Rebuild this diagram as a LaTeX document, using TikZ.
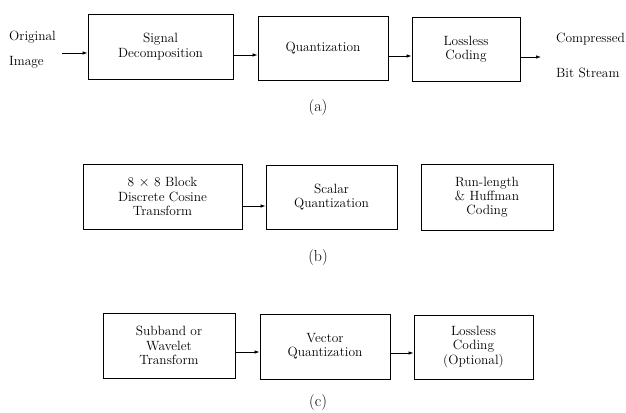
\documentclass[tikz,border=0pt]{standalone}
\usetikzlibrary{arrows.meta}
\begin{document}
\begin{tikzpicture}[x=1pt,y=-1pt,
  blk/.style={draw,line width=0.9pt,align=center,inner sep=0pt,
    font=\fontsize{13.4}{14.2}\selectfont},
  lbl/.style={font=\fontsize{13.4}{14.2}\selectfont,inner sep=0pt},
  figlabel/.style={font=\fontsize{16}{18}\selectfont,inner sep=0pt},
  arr/.style={line width=0.7pt,-{Latex[length=5pt,width=3.5pt]}}]
\useasboundingbox (0,0) rectangle (626,412);
% (a)
\node[lbl,anchor=west] (orig) at (9,37) {Original};
\node[lbl,anchor=west] (img) at (9,62) {Image};
\coordinate (in) at (62,53);
\node[blk,minimum width=145pt,minimum height=65pt] (a1) at (160.5,46.5) {Signal\\Decomposition};
\node[blk,minimum width=130pt,minimum height=64pt] (a2) at (323,48) {Quantization};
\node[blk,minimum width=108pt,minimum height=64pt] (a3) at (466,49) {Lossless\\Coding};
\coordinate (out) at (541,57);
\node[lbl,anchor=west] (comp) at (556,39) {Compressed};
\node[lbl,anchor=west] (bits) at (556,73) {Bit Stream};
\draw[arr] (in) -- (a1.west |- in);
\draw[arr] (a1.east |- 0,55) -- (a2.west |- 0,55);
\draw[arr] (a2.east |- 0,56) -- (a3.west |- 0,56);
\draw[arr] (a3.east |- out) -- (out);
\node[figlabel] (capa) at (318,108) {(a)};
% (b)
\node[blk,minimum width=159pt,minimum height=65pt] (b1) at (162.5,196.5) {8 $\times$ 8 Block\\Discrete Cosine\\Transform};
\node[blk,minimum width=131pt,minimum height=64pt] (b2) at (331.5,197) {Scalar\\Quantization};
\node[blk,minimum width=132pt,minimum height=66pt] (b3) at (487,197) {Run-length\\\& Huffman\\Coding};
\draw[arr] (b1.east |- 0,206) -- (b2.west |- 0,206);
\node[figlabel] (capb) at (318,258) {(b)};
% (c)
\node[blk,minimum width=132pt,minimum height=65pt] (c1) at (169,345.5) {Subband or\\Wavelet\\Transform};
\node[blk,minimum width=130pt,minimum height=65pt] (c2) at (325,346.5) {Vector\\Quantization};
\node[blk,minimum width=119pt,minimum height=64pt] (c3) at (473.5,347) {Lossless\\Coding\\(Optional)};
\draw[arr] (c1.east |- 0,352) -- (c2.west |- 0,352);
\draw[arr] (c2.east |- 0,353) -- (c3.west |- 0,353);
\node[figlabel] (capc) at (318,403) {(c)};
\end{tikzpicture}
\end{document}
